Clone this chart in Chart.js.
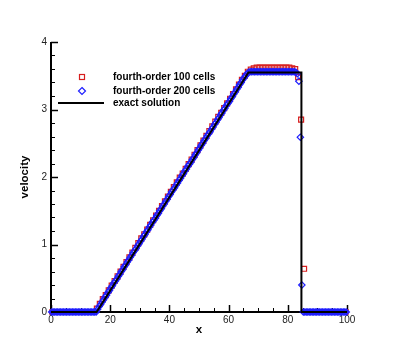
<!DOCTYPE html>
<html><head><meta charset="utf-8">
<script src="https://cdn.jsdelivr.net/npm/chart.js@4/dist/chart.umd.min.js"></script>
<style>html,body{margin:0;padding:0;background:#fff;} canvas{display:block;}</style>
</head><body>
<canvas id="c" width="395" height="351"></canvas>
<script>
const X_TICKS = [0, 20, 40, 60, 80, 100];
const Y_TICKS = [0, 1, 2, 3, 4];
const X_TITLE = 'x';
const Y_TITLE = 'velocity';
const SERIES_LABELS = ['fourth-order 100 cells', 'fourth-order 200 cells', 'exact solution'];

// fourth-order, 100 cells (values at cell centres)
const U100 = [
  0,0,0,0,0,0,0,0,0,0,0,0,0,0,0,
  0.05,0.12,0.19,0.25,0.32,0.39,0.46,0.53,0.60,0.67,
  0.74,0.81,0.88,0.95,1.02,1.09,1.15,1.22,1.29,1.36,
  1.43,1.50,1.57,1.64,1.71,1.78,1.85,1.92,1.99,2.05,
  2.12,2.19,2.26,2.33,2.40,2.47,2.54,2.61,2.68,2.75,
  2.82,2.89,2.95,3.02,3.09,3.16,3.23,3.30,3.37,3.44,
  3.50,3.56,
  3.59,3.61,
  3.62,3.62,3.62,3.62,3.62,3.62,3.62,3.62,3.62,3.62,3.62,3.62,
  3.61,3.60,3.48,2.85,0.64,
  0,0,0,0,0,0,0,0,0,0,0,0,0,0
];

// fourth-order, 200 cells (values at cell centres)
const U200 = [
  0,0,0,0,0,0,0,0,0,0,0,0,0,0,0,0,0,0,0,0,0,0,0,0,0,0,0,0,0,0,0,
  0.04,0.08,0.11,0.15,0.18,0.22,0.25,0.29,0.32,0.36,
  0.39,0.43,0.46,0.49,0.53,0.56,0.60,0.63,0.67,0.70,
  0.74,0.77,0.81,0.84,0.88,0.91,0.94,0.98,1.01,1.05,
  1.08,1.12,1.15,1.19,1.22,1.26,1.29,1.33,1.36,1.39,
  1.43,1.46,1.50,1.53,1.57,1.60,1.64,1.67,1.71,1.74,
  1.78,1.81,1.84,1.88,1.91,1.95,1.98,2.02,2.05,2.09,
  2.12,2.16,2.19,2.22,2.26,2.29,2.33,2.36,2.40,2.43,
  2.47,2.50,2.54,2.57,2.61,2.64,2.67,2.71,2.74,2.78,
  2.81,2.85,2.88,2.92,2.95,2.99,3.02,3.06,3.09,3.12,
  3.16,3.19,3.23,3.26,3.30,3.33,3.37,3.40,3.44,3.47,
  3.50,3.53,
  3.55,3.56,
  3.56,3.56,3.56,3.56,3.56,3.56,3.56,3.56,3.56,3.56,
  3.56,3.56,3.56,3.56,3.56,3.56,3.56,3.56,3.56,3.56,
  3.56,3.56,3.56,3.56,3.56,3.56,3.56,3.56,3.56,3.56,
  3.55,3.53,3.42,2.59,0.40,
  0,0,0,0,0,0,0,0,0,0,0,0,0,0,0,0,0,0,0,0,0,0,0,0,0,0,0,0,0,0
];

// exact solution vertices
const EXACT_X = [0, 15.4, 66.7, 84.6, 84.6, 100];
const EXACT_U = [0, 0, 3.55, 3.55, 0, 0];

const DOMAIN = [X_TICKS[0], X_TICKS[X_TICKS.length - 1]];
function cellCentres(n) {
  const a = [], w = (DOMAIN[1] - DOMAIN[0]) / n;
  for (let i = 0; i < n; i++) a.push(DOMAIN[0] + (i + 0.5) * w);
  return a;
}
function pts(xs, ys) { return ys.map((v, i) => ({ x: xs[i], y: v })); }

const RED = 'rgb(215,30,30)';
const BLUE = 'rgb(30,30,255)';
const FONT = "'Liberation Sans', Arial, Helvetica, sans-serif";

const axesPlugin = {
  id: 'axesTicks',
  beforeDatasetsDraw(chart) {
    const { ctx, chartArea: a, scales: { x, y } } = chart;
    ctx.save();
    ctx.strokeStyle = '#000';
    for (let v = DOMAIN[0]; v <= DOMAIN[1] + 1e-9; v += 5) {
      const px = Math.round(x.getPixelForValue(v)) + 0.5;
      const major = X_TICKS.includes(v);
      ctx.lineWidth = major ? 1.5 : 1;
      ctx.beginPath();
      ctx.moveTo(px, a.bottom);
      ctx.lineTo(px, a.bottom - (major ? 7 : 4));
      ctx.stroke();
    }
    for (let k = 0; k <= 20; k++) {
      const v = k * 0.2;
      const py = Math.round(y.getPixelForValue(v)) + 0.5;
      const major = k % 5 === 0;
      ctx.lineWidth = major ? 1.5 : 1;
      ctx.beginPath();
      ctx.moveTo(a.left, py);
      ctx.lineTo(a.left + (major ? 7 : 4), py);
      ctx.stroke();
    }
    ctx.lineWidth = 2;
    ctx.beginPath();
    ctx.moveTo(a.left, a.top);
    ctx.lineTo(a.left, a.bottom);
    ctx.lineTo(a.right, a.bottom);
    ctx.stroke();
    ctx.restore();
  }
};

const legendPlugin = {
  id: 'customLegend',
  afterDraw(chart) {
    const ctx = chart.ctx;
    ctx.save();
    const mx = 82, tx = 113;
    const rows = [77, 91, 103];
    ctx.lineWidth = 1.2;
    ctx.strokeStyle = RED;
    ctx.strokeRect(mx - 2.5, rows[0] - 2.5, 5, 5);
    ctx.strokeStyle = BLUE;
    ctx.beginPath();
    ctx.moveTo(mx, rows[1] - 3.5);
    ctx.lineTo(mx + 3.5, rows[1]);
    ctx.lineTo(mx, rows[1] + 3.5);
    ctx.lineTo(mx - 3.5, rows[1]);
    ctx.closePath();
    ctx.stroke();
    ctx.strokeStyle = '#000';
    ctx.lineWidth = 2;
    ctx.beginPath();
    ctx.moveTo(58, rows[2]);
    ctx.lineTo(104, rows[2]);
    ctx.stroke();
    ctx.fillStyle = '#000';
    ctx.font = 'bold 10px ' + FONT;
    ctx.textBaseline = 'middle';
    ctx.textAlign = 'left';
    SERIES_LABELS.forEach((t, i) => ctx.fillText(t, tx, rows[i]));
    ctx.restore();
  }
};

new Chart(document.getElementById('c'), {
  type: 'scatter',
  data: {
    datasets: [
      {
        label: SERIES_LABELS[2],
        data: pts(EXACT_X, EXACT_U),
        showLine: true,
        borderColor: '#000',
        borderWidth: 2,
        pointRadius: 0,
        fill: false,
        tension: 0,
        clip: false,
        order: 0
      },
      {
        label: SERIES_LABELS[1],
        data: pts(cellCentres(U200.length), U200),
        showLine: false,
        pointStyle: 'rectRot',
        pointRadius: 3.2,
        pointBorderWidth: 1.2,
        pointBorderColor: BLUE,
        pointBackgroundColor: 'rgba(0,0,0,0)',
        clip: false,
        order: 1
      },
      {
        label: SERIES_LABELS[0],
        data: pts(cellCentres(U100.length), U100),
        showLine: false,
        pointStyle: 'rect',
        pointRadius: 3.5,
        pointBorderWidth: 1.2,
        pointBorderColor: RED,
        pointBackgroundColor: 'rgba(0,0,0,0)',
        clip: false,
        order: 2
      }
    ]
  },
  options: {
    responsive: false,
    animation: false,
    devicePixelRatio: 1,
    layout: { padding: { left: 0, top: 42, right: 48, bottom: 0 } },
    plugins: { legend: { display: false }, tooltip: { enabled: false } },
    scales: {
      x: {
        type: 'linear',
        min: DOMAIN[0], max: DOMAIN[1],
        afterBuildTicks(s) { s.ticks = X_TICKS.map(v => ({ value: v })); },
        afterFit(s) { s.height = 39; },
        grid: { display: false, drawTicks: false },
        border: { display: false },
        ticks: { padding: 2, color: '#222', font: { family: FONT, size: 10 }, maxRotation: 0, autoSkip: false },
        title: { display: true, text: X_TITLE, color: '#000', font: { family: FONT, size: 11.5, weight: 'bold' }, padding: { top: 0, bottom: 14 } }
      },
      y: {
        type: 'linear',
        min: Y_TICKS[0], max: Y_TICKS[Y_TICKS.length - 1],
        afterBuildTicks(s) { s.ticks = Y_TICKS.map(v => ({ value: v })); },
        afterFit(s) { s.width = 51; },
        grid: { display: false, drawTicks: false },
        border: { display: false },
        ticks: { padding: 4, color: '#222', font: { family: FONT, size: 10 }, autoSkip: false },
        title: { display: true, text: Y_TITLE, color: '#000', font: { family: FONT, size: 11.5, weight: 'bold' }, padding: { top: 18, bottom: 0 } }
      }
    }
  },
  plugins: [axesPlugin, legendPlugin]
});
</script>
</body></html>
